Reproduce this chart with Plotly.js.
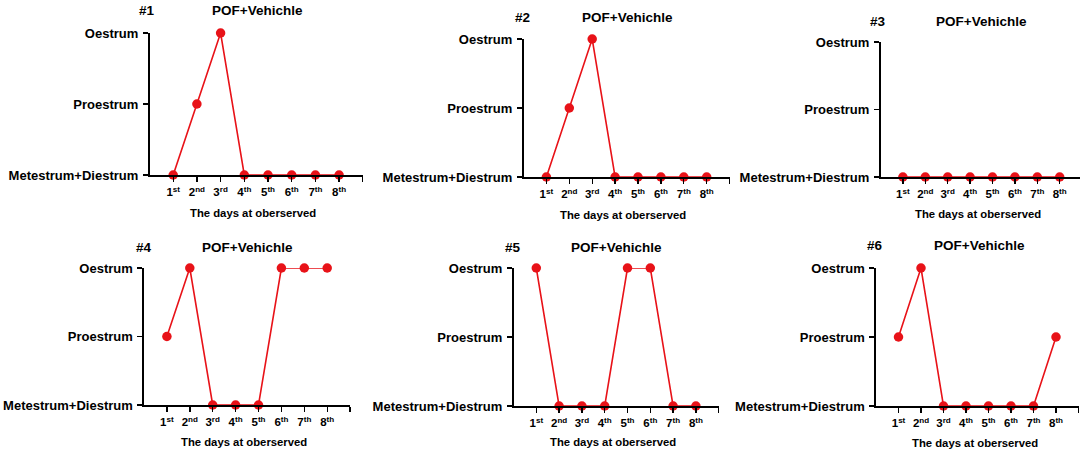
<!DOCTYPE html>
<html>
<head>
<meta charset="utf-8">
<script src="https://cdn.plot.ly/plotly-3.0.1.min.js"></script>
<style>html,body{margin:0;padding:0;background:#fff;}#chart{width:1080px;height:452px;}</style>
</head>
<body>
<div id="chart"></div>
<script>
// ---- data ----
const days = [1, 2, 3, 4, 5, 6, 7, 8];
const dayLabels = ['1<sup>st</sup>', '2<sup>nd</sup>', '3<sup>rd</sup>', '4<sup>th</sup>', '5<sup>th</sup>', '6<sup>th</sup>', '7<sup>th</sup>', '8<sup>th</sup>'];
const stageLabels = ['Metestrum+Diestrum', 'Proestrum', 'Oestrum'];
const panelNames = ['#1', '#2', '#3', '#4', '#5', '#6'];
const groupTitle = 'POF+Vehichle';
const xTitle = 'The days at oberserved';
// stage index: 0 = Metestrum+Diestrum, 1 = Proestrum, 2 = Oestrum
const mouse1 = [0, 1, 2, 0, 0, 0, 0, 0];
const mouse2 = [0, 1, 2, 0, 0, 0, 0, 0];
const mouse3 = [0, 0, 0, 0, 0, 0, 0, 0];
const mouse4 = [1, 2, 0, 0, 0, 2, 2, 2];
const mouse5 = [2, 0, 0, 0, 2, 2, 0, 0];
const mouse6 = [1, 2, 0, 0, 0, 0, 0, 1];
const series = [mouse1, mouse2, mouse3, mouse4, mouse5, mouse6];

// ---- layout geometry (pixels) ----
const W = 1080, H = 452;
const geo = [
  {x0: 149.5, s: 23.7, yt: 33,  yb: 175, num: [147, 11], ttl: [257, 11], xt: [253, 213]},
  {x0: 523.5, s: 22.9, yt: 39,  yb: 177, num: [522, 17], ttl: [627, 17], xt: [623, 215]},
  {x0: 880.5, s: 22.4, yt: 42,  yb: 177, num: [878, 21], ttl: [981, 21], xt: [978, 214]},
  {x0: 144,   s: 22.9, yt: 268, yb: 405, num: [144, 248], ttl: [247, 248], xt: [244, 442]},
  {x0: 513.5, s: 22.8, yt: 268, yb: 406, num: [513, 248], ttl: [616, 248], xt: [613, 442]},
  {x0: 876,   s: 22.5, yt: 268, yb: 406, num: [875, 246], ttl: [979, 246], xt: [975, 443]}
];

const FONT = 'Liberation Sans, Arial, Helvetica, sans-serif';
const RED = 'rgb(232,18,24)';
const traces = [];
const layout = {
  width: W, height: H,
  margin: {l: 0, r: 0, t: 0, b: 0},
  paper_bgcolor: '#fff', plot_bgcolor: 'rgba(0,0,0,0)',
  showlegend: false,
  font: {family: FONT, color: '#000'},
  annotations: []
};

series.forEach((vals, i) => {
  const g = geo[i];
  const k = i === 0 ? '' : String(i + 1);
  let xEnd = g.x0 + 9 * g.s;
  let rEnd = 9;
  if (xEnd > W) { rEnd = (W - g.x0) / g.s; xEnd = W; }
  traces.push({
    type: 'scatter', mode: 'lines+markers',
    x: days, y: vals,
    xaxis: 'x' + k, yaxis: 'y' + k,
    line: {color: RED, width: 1.6},
    marker: {color: RED, size: 9.5},
    cliponaxis: false,
    hoverinfo: 'skip'
  });
  const tv = days.concat(rEnd >= 9 ? [9] : []);
  const tt = dayLabels.concat(rEnd >= 9 ? [''] : []);
  layout['xaxis' + k] = {
    domain: [g.x0 / W, xEnd / W],
    range: [0, rEnd],
    anchor: 'y' + k,
    showgrid: false, zeroline: false,
    showline: true, linecolor: '#000', linewidth: 1.6,
    ticks: 'outside', ticklen: 5, tickwidth: 1.4, tickcolor: '#000',
    tickvals: tv, ticktext: tt,
    tickfont: {family: FONT, size: 11.5, weight: 'bold', color: '#000'},
    ticklabelstandoff: 1,
    fixedrange: true
  };
  layout['yaxis' + k] = {
    domain: [1 - g.yb / H, 1 - g.yt / H],
    range: [0, 2],
    anchor: 'x' + k,
    showgrid: false, zeroline: false,
    showline: true, linecolor: '#000', linewidth: 1.6,
    ticks: 'outside', ticklen: 5, tickwidth: 1.4, tickcolor: '#000',
    tickvals: [0, 1, 2], ticktext: stageLabels,
    tickfont: {family: FONT, size: 13, weight: 'bold', color: '#000'},
    ticklabelstandoff: 2,
    fixedrange: true
  };
  const ann = (txt, p, size) => ({
    text: txt, xref: 'paper', yref: 'paper',
    x: p[0] / W, y: 1 - p[1] / H, xanchor: 'center', yanchor: 'middle',
    showarrow: false, font: {family: FONT, size: size, weight: 'bold', color: '#000'}
  });
  layout.annotations.push(ann(panelNames[i], g.num, 13.5));
  layout.annotations.push(ann(groupTitle, g.ttl, 13.5));
  layout.annotations.push(ann(xTitle, g.xt, 11.3));
});

Plotly.newPlot('chart', traces, layout, {displayModeBar: false, staticPlot: true});
</script>
</body>
</html>
